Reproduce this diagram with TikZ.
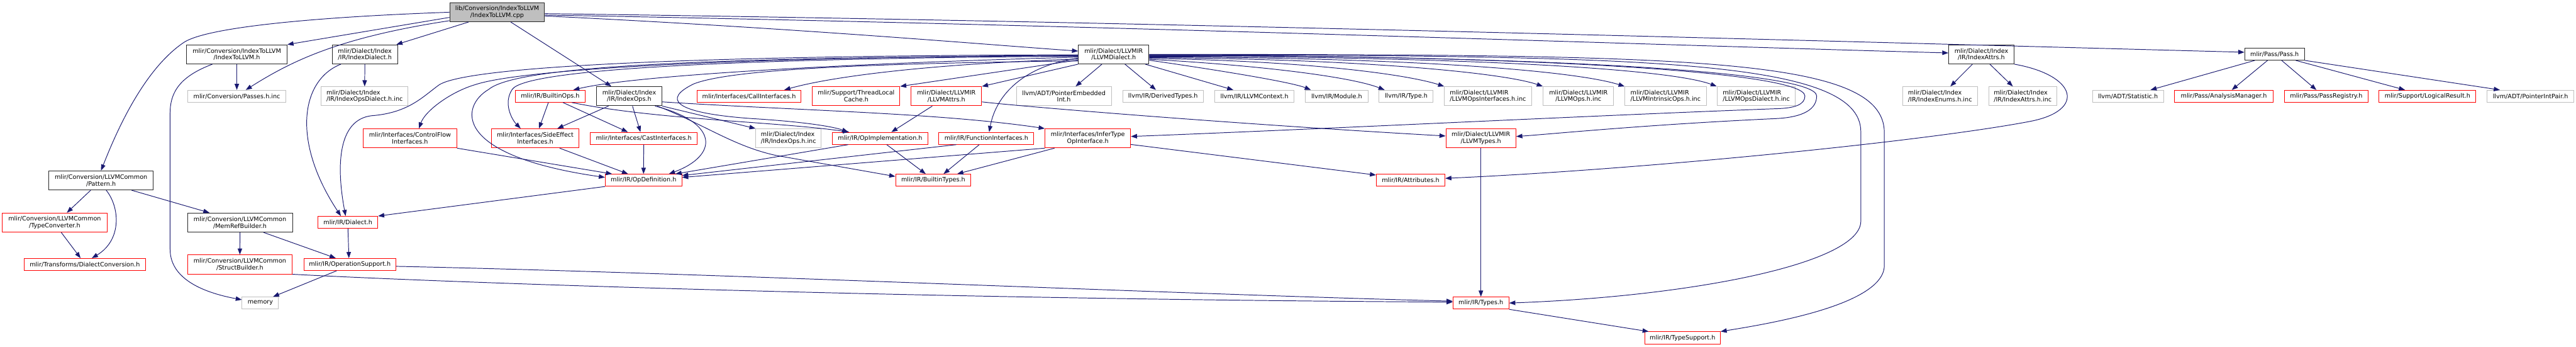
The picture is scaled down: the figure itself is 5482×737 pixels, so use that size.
\documentclass[tikz,border=0pt]{standalone}
\usepackage{fontspec}
\setmainfont{DejaVu Sans}
\usetikzlibrary{arrows.meta}
\definecolor{edgeblue}{HTML}{191970}
\definecolor{leafgray}{HTML}{BFBFBF}
\definecolor{cutred}{HTML}{FF0000}

\begin{document}
\begin{tikzpicture}[x=1pt, y=-1pt, every node/.style={font=\fontsize{12.9}{14.6}\selectfont}]
\tikzset{box/.style={draw, line width=1.3pt, fill=white, inner sep=0pt, align=center}}
\tikzset{hdr/.style={box, draw=black!85}}
\tikzset{cut/.style={box, draw=cutred}}
\tikzset{ext/.style={box, draw=leafgray}}
\tikzset{src/.style={box, draw=black!85, fill=leafgray}}
\tikzset{ln1/.style={minimum height=25.5pt}}
\tikzset{ln2/.style={minimum height=40.5pt}}
\tikzset{inc/.style={draw=edgeblue, line width=1.3pt, -{Triangle[length=13pt,width=9.5pt]}}}
\useasboundingbox (0,0) rectangle (5482,737);
\node[src, ln2, minimum width=202pt] (cpp) at (1058,26) {lib/Conversion/IndexToLLVM\\/IndexToLLVM.cpp};
\node[hdr, ln2, minimum width=214pt] (idxllvmh) at (504,115.5) {mlir/Conversion/IndexToLLVM\\/IndexToLLVM.h};
\node[hdr, ln2, minimum width=139pt] (idxdialect) at (776.5,115.5) {mlir/Dialect/Index\\/IR/IndexDialect.h};
\node[hdr, ln2, minimum width=150pt] (llvmdialect) at (2370,115.5) {mlir/Dialect/LLVMIR\\/LLVMDialect.h};
\node[hdr, ln2, minimum width=139pt] (idxattrs) at (4216.5,115.5) {mlir/Dialect/Index\\/IR/IndexAttrs.h};
\node[hdr, ln1, minimum width=127pt] (pass) at (4840.5,115) {mlir/Pass/Pass.h};
\node[ext, ln1, minimum width=208pt] (passesinc) at (504,204.5) {mlir/Conversion/Passes.h.inc};
\node[ext, ln2, minimum width=185pt, align=left] (idxopsdialinc) at (776,204.5) {mlir/Dialect/Index\\/IR/IndexOpsDialect.h.inc};
\node[cut, ln1, minimum width=148pt] (builtinops) at (1171,204.5) {mlir/IR/BuiltinOps.h};
\node[hdr, ln2, minimum width=139pt] (idxops) at (1339,204.5) {mlir/Dialect/Index\\/IR/IndexOps.h};
\node[cut, ln1, minimum width=222pt] (callif) at (1594,204.5) {mlir/Interfaces/CallInterfaces.h};
\node[cut, ln2, minimum width=186pt] (threadlocal) at (1822,204.5) {mlir/Support/ThreadLocal\\Cache.h};
\node[cut, ln2, minimum width=150pt] (llvmattrs) at (2014,204.5) {mlir/Dialect/LLVMIR\\/LLVMAttrs.h};
\node[ext, ln2, minimum width=202pt] (ptrembedded) at (2264,204.5) {llvm/ADT/PointerEmbedded\\Int.h};
\node[ext, ln1, minimum width=172pt] (derivedtypes) at (2475,204.5) {llvm/IR/DerivedTypes.h};
\node[ext, ln1, minimum width=169pt] (llvmcontext) at (2669.5,204.5) {llvm/IR/LLVMContext.h};
\node[ext, ln1, minimum width=133pt] (module) at (2844.5,204.5) {llvm/IR/Module.h};
\node[ext, ln1, minimum width=115pt] (llvmtype) at (2992.5,204.5) {llvm/IR/Type.h};
\node[ext, ln2, minimum width=185pt, align=left] (opsifinc) at (3166.5,204.5) {mlir/Dialect/LLVMIR\\/LLVMOpsInterfaces.h.inc};
\node[ext, ln2, minimum width=150pt] (opsinc) at (3359,204.5) {mlir/Dialect/LLVMIR\\/LLVMOps.h.inc};
\node[ext, ln2, minimum width=173pt, align=left] (intrinsicinc) at (3544.5,204.5) {mlir/Dialect/LLVMIR\\/LLVMIntrinsicOps.h.inc};
\node[ext, ln2, minimum width=167pt, align=left] (opsdialinc) at (3737.5,204.5) {mlir/Dialect/LLVMIR\\/LLVMOpsDialect.h.inc};
\node[ext, ln2, minimum width=159pt, align=left] (idxenumsinc) at (4128.5,204.5) {mlir/Dialect/Index\\/IR/IndexEnums.h.inc};
\node[ext, ln2, minimum width=145pt, align=left] (idxattrsinc) at (4304.5,204.5) {mlir/Dialect/Index\\/IR/IndexAttrs.h.inc};
\node[ext, ln1, minimum width=151pt] (statistic) at (4528.5,204.5) {llvm/ADT/Statistic.h};
\node[cut, ln1, minimum width=209pt] (analysis) at (4732.5,204.5) {mlir/Pass/AnalysisManager.h};
\node[cut, ln1, minimum width=179pt] (passreg) at (4950.5,204.5) {mlir/Pass/PassRegistry.h};
\node[cut, ln1, minimum width=206pt] (logical) at (5166,204.5) {mlir/Support/LogicalResult.h};
\node[ext, ln1, minimum width=185pt] (ptrintpair) at (5385,204.5) {llvm/ADT/PointerIntPair.h};
\node[cut, ln2, minimum width=199pt] (controlflow) at (872.5,294) {mlir/Interfaces/ControlFlow\\Interfaces.h};
\node[cut, ln2, minimum width=187pt] (sideeffect) at (1139,294) {mlir/Interfaces/SideEffect\\Interfaces.h};
\node[cut, ln1, minimum width=228pt] (castif) at (1370,294) {mlir/Interfaces/CastInterfaces.h};
\node[ext, ln2, minimum width=139pt, align=left] (idxopsinc) at (1678,294) {mlir/Dialect/Index\\/IR/IndexOps.h.inc};
\node[cut, ln1, minimum width=203pt] (opimpl) at (1873,294) {mlir/IR/OpImplementation.h};
\node[cut, ln1, minimum width=202pt] (funcif) at (2099,294) {mlir/IR/FunctionInterfaces.h};
\node[cut, ln2, minimum width=182pt] (infertype) at (2315,294) {mlir/Interfaces/InferType\\OpInterface.h};
\node[cut, ln2, minimum width=149pt] (llvmtypes) at (3151.5,294) {mlir/Dialect/LLVMIR\\/LLVMTypes.h};
\node[hdr, ln2, minimum width=223pt] (pattern) at (215,383.4) {mlir/Conversion/LLVMCommon\\/Pattern.h};
\node[cut, ln1, minimum width=163pt] (opdef) at (1369.5,383) {mlir/IR/OpDefinition.h};
\node[cut, ln1, minimum width=160pt] (builtintypes) at (1986,383) {mlir/IR/BuiltinTypes.h};
\node[cut, ln1, minimum width=146pt] (attributes) at (3002,383) {mlir/IR/Attributes.h};
\node[cut, ln2, minimum width=223pt] (typeconv) at (116.3,473) {mlir/Conversion/LLVMCommon\\/TypeConverter.h};
\node[hdr, ln2, minimum width=223.5pt] (memrefb) at (510.7,473) {mlir/Conversion/LLVMCommon\\/MemRefBuilder.h};
\node[cut, ln1, minimum width=127pt] (dialect) at (740.5,472.5) {mlir/IR/Dialect.h};
\node[cut, ln1, minimum width=259pt] (dialconv) at (180.5,562) {mlir/Transforms/DialectConversion.h};
\node[cut, ln2, minimum width=223pt] (structb) at (510.5,562) {mlir/Conversion/LLVMCommon\\/StructBuilder.h};
\node[cut, ln1, minimum width=195pt] (opsupport) at (744.5,562) {mlir/IR/OperationSupport.h};
\node[ext, ln1, minimum width=77.5pt] (memory) at (554,644) {memory};
\node[cut, ln1, minimum width=119pt] (types) at (3151.5,644) {mlir/IR/Types.h};
\node[cut, ln1, minimum width=161pt] (typesupport) at (3580.5,718) {mlir/IR/TypeSupport.h};
\draw[inc] (cpp.west) .. controls (700,35) and (450,55) .. (393,89) .. controls (300,150) and (240,300) .. (pattern.north);
\draw[inc] ([yshift=-11pt]cpp.west) -- (idxllvmh.north east);
\draw[inc] ([yshift=-18pt]cpp.west) .. controls (720,80) and (620,130) .. ([xshift=19pt]passesinc.north);
\draw[inc] ([xshift=-61pt]cpp.south) -- ([xshift=67pt]idxdialect.north);
\draw[inc] ([xshift=29pt]cpp.south) -- ([xshift=-38pt]idxops.north);
\draw[inc] ([yshift=-8pt]cpp.east) .. controls (1700,60) and (2100,95) .. ([yshift=7pt]llvmdialect.west);
\draw[inc] ([yshift=-6pt]cpp.east) .. controls (2300,52) and (3500,95) .. ([yshift=3pt]idxattrs.west);
\draw[inc] ([yshift=-3pt]cpp.east) .. controls (2400,45) and (3800,85) .. ([yshift=4pt]pass.west);
\draw[inc] (idxllvmh.south) -- (passesinc.north);
\draw[inc] ([xshift=-52pt]idxllvmh.south) .. controls (390,160) and (362,190) .. (362,240) -- (362,530) .. controls (362,600) and (450,625) .. ([yshift=7pt]memory.west);
\draw[inc] ([xshift=-22pt]pattern.south) -- ([xshift=26pt]typeconv.north);
\draw[inc] ([xshift=11pt]pattern.south) .. controls (255,440) and (260,510) .. ([xshift=15pt]dialconv.north);
\draw[inc] ([xshift=65pt]pattern.south) -- ([xshift=-65pt]memrefb.north);
\draw[inc] ([xshift=14pt]typeconv.south) -- ([xshift=-9pt]dialconv.north);
\draw[inc] (memrefb.south) -- (structb.north);
\draw[inc] ([xshift=50pt]memrefb.south) -- ([xshift=-30pt]opsupport.north);
\draw[inc] (structb.south east) .. controls (1000,603) and (2000,636) .. ([yshift=2pt]types.west);
\draw[inc] ([yshift=-4pt]opsupport.east) .. controls (1500,580) and (2500,625) .. ([yshift=4pt]types.west);
\draw[inc] ([xshift=-28pt]opsupport.south) -- ([xshift=27pt]memory.north);
\draw[inc] (dialect.south) -- ([xshift=-2pt]opsupport.north);
\draw[inc] (opdef.south west) -- (dialect.north east);
\draw[inc] (idxdialect.south) -- (idxopsdialinc.north);
\draw[inc] ([xshift=-51pt]idxdialect.south) .. controls (640,170) and (620,300) .. ([xshift=-15pt]dialect.north);
\draw[inc] ([yshift=-1pt]llvmdialect.west) .. controls (1500,118) and (1000,140) .. (935,180) .. controls (900,205) and (870,240) .. (790,246) .. controls (720,255) and (715,350) .. ([xshift=-5pt]dialect.north);
\draw[inc] ([yshift=-2pt]llvmdialect.west) .. controls (1500,122) and (1100,150) .. (1011,180) .. controls (960,195) and (905,235) .. ([xshift=19pt]controlflow.north);
\draw[inc] ([yshift=-3pt]llvmdialect.west) .. controls (1500,122) and (1100,140) .. (1040,190) .. controls (980,225) and (960,330) .. ([yshift=6pt]opdef.west);
\draw[inc] ([yshift=-4pt]llvmdialect.west) .. controls (1600,124) and (1120,145) .. (1090,190) .. controls (1070,220) and (1090,255) .. ([xshift=-31pt]sideeffect.north);
\draw[inc] ([yshift=-6pt]llvmdialect.west) .. controls (1800,135) and (1350,160) .. ([xshift=49pt]builtinops.north);
\draw[inc] ([yshift=-10pt]llvmdialect.west) .. controls (2000,135) and (1780,160) .. ([xshift=75pt]callif.north);
\draw[inc] ([yshift=-12pt]llvmdialect.west) -- (threadlocal.north east);
\draw[inc] ([yshift=-14pt]llvmdialect.west) .. controls (1800,135) and (1550,150) .. (1477,178) .. controls (1410,210) and (1430,240) .. (1600,252) .. controls (1700,258) and (1770,268) .. ([xshift=-68pt]opimpl.north);
\draw[inc] (llvmdialect.south west) -- (llvmattrs.north east);
\draw[inc] ([yshift=-8pt]llvmdialect.west) .. controls (2180,140) and (2120,200) .. ([xshift=6pt]funcif.north);
\draw[inc] ([xshift=-25pt]llvmdialect.south) -- ([xshift=25pt]ptrembedded.north);
\draw[inc] ([xshift=24pt]llvmdialect.south) -- ([xshift=-15pt]derivedtypes.north);
\draw[inc] ([xshift=67pt]llvmdialect.south) -- ([xshift=-45pt]llvmcontext.north);
\draw[inc] ([yshift=-12.5pt]llvmdialect.east) .. controls (2600,150) and (2750,175) .. ([xshift=-55pt]module.north);
\draw[inc] ([yshift=-10.5pt]llvmdialect.east) .. controls (2700,140) and (2880,165) .. ([xshift=-46pt]llvmtype.north);
\draw[inc] ([yshift=-8.5pt]llvmdialect.east) .. controls (2800,130) and (3000,160) .. (opsifinc.north west);
\draw[inc] ([yshift=-7pt]llvmdialect.east) .. controls (2900,125) and (3200,155) .. (opsinc.north west);
\draw[inc] ([yshift=-5.5pt]llvmdialect.east) .. controls (3000,122) and (3350,150) .. (intrinsicinc.north west);
\draw[inc] ([yshift=-4pt]llvmdialect.east) .. controls (3100,120) and (3550,145) .. (opsdialinc.north west);
\draw[inc] ([yshift=-3pt]llvmdialect.east) .. controls (3200,116) and (3841,150) .. (3841,204) .. controls (3841,222) and (3820,230) .. (3780,231) .. controls (3400,245) and (2800,275) .. ([yshift=4pt]infertype.east);
\draw[inc] ([yshift=-2pt]llvmdialect.east) .. controls (3250,118) and (3866,150) .. (3866,204) .. controls (3866,240) and (3820,250) .. (3780,252) .. controls (3500,265) and (3300,285) .. ([yshift=4pt]llvmtypes.east);
\draw[inc] ([yshift=-1pt]llvmdialect.east) .. controls (3500,118) and (3960,125) .. (3960,280) -- (3960,470) .. controls (3960,560) and (3600,630) .. (types.east);
\draw[inc] (llvmdialect.east) .. controls (3600,116) and (4010,120) .. (4010,282) -- (4010,564) .. controls (4010,650) and (3750,690) .. (typesupport.north east);
\draw[inc] ([xshift=-30pt]llvmattrs.south) -- ([xshift=24pt]opimpl.north);
\draw[inc] ([yshift=-12pt]llvmattrs.east) .. controls (2150,224) and (2600,262) .. ([yshift=5pt]llvmtypes.west);
\draw[inc] ([xshift=-4pt]builtinops.south) -- ([xshift=8pt]sideeffect.north);
\draw[inc] ([xshift=27pt]builtinops.south) -- ([xshift=-34pt]castif.north);
\draw[inc] ([xshift=46pt]builtinops.south) .. controls (1400,255) and (1650,258) .. ([xshift=-66pt]opimpl.north);
\draw[inc] ([xshift=-44pt]idxops.south) -- ([xshift=47pt]sideeffect.north);
\draw[inc] ([xshift=7pt]idxops.south) -- ([xshift=-7pt]castif.north);
\draw[inc] ([xshift=55pt]idxops.south) .. controls (1530,260) and (1530,330) .. ([xshift=54pt]opdef.north);
\draw[inc] (idxops.south east) -- (idxopsinc.north west);
\draw[inc] ([yshift=-12pt]idxops.east) .. controls (1700,235) and (2000,240) .. (infertype.north west);
\draw[inc] ([xshift=60pt]idxops.south) .. controls (1500,265) and (1560,310) .. (1650,330) -- ([yshift=8pt]builtintypes.west);
\draw[inc] ([xshift=52pt]sideeffect.south) -- ([xshift=-33pt]opdef.north);
\draw[inc] (controlflow.south east) -- ([xshift=-67pt]opdef.north);
\draw[inc] (castif.south) -- (opdef.north);
\draw[inc] ([xshift=-68pt]opimpl.south) -- ([xshift=68pt]opdef.north);
\draw[inc] ([xshift=-64pt]funcif.south) -- ([yshift=10pt]opdef.east);
\draw[inc] (infertype.south west) -- ([yshift=6pt]opdef.east);
\draw[inc] ([xshift=14pt]opimpl.south) -- ([xshift=-16pt]builtintypes.north);
\draw[inc] ([xshift=-15pt]funcif.south) -- ([xshift=22pt]builtintypes.north);
\draw[inc] ([xshift=-71pt]infertype.south) -- ([xshift=51pt]builtintypes.north);
\draw[inc] ([yshift=-13pt]infertype.east) -- ([yshift=11pt]attributes.west);
\draw[inc] ([xshift=-19pt]idxattrs.south) -- ([xshift=22pt]idxenumsinc.north);
\draw[inc] ([xshift=18pt]idxattrs.south) -- ([xshift=-21pt]idxattrsinc.north);
\draw[inc] (idxattrs.south east) .. controls (4420,160) and (4440,235) .. (4320,258) .. controls (4100,300) and (3500,360) .. ([yshift=4pt]attributes.east);
\draw[inc] (llvmtypes.south) -- (types.north);
\draw[inc] (types.south east) -- ([xshift=-72pt]typesupport.north);
\draw[inc] ([xshift=-42pt]pass.south) -- ([xshift=48pt]statistic.north);
\draw[inc] ([xshift=-15pt]pass.south) -- ([xshift=17pt]analysis.north);
\draw[inc] ([xshift=15pt]pass.south) -- ([xshift=-21pt]passreg.north);
\draw[inc] ([xshift=45pt]pass.south) -- ([xshift=-48pt]logical.north);
\draw[inc] (pass.south east) -- ([xshift=-65pt]ptrintpair.north);
\end{tikzpicture}
\end{document}
